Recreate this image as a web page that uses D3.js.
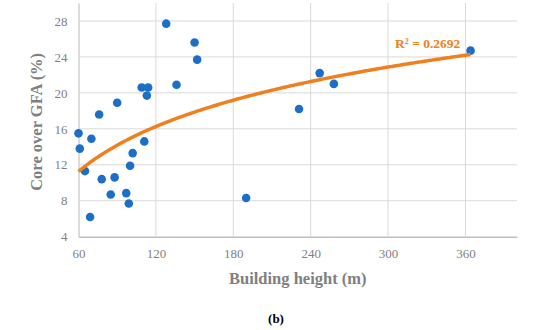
<!DOCTYPE html>
<html>
<head>
<meta charset="utf-8">
<script src="https://cdn.jsdelivr.net/npm/d3@7"></script>
<style>
  body { margin: 0; background: #fff; }
  svg { display: block; font-family: "Liberation Serif", "DejaVu Serif", serif; }
</style>
</head>
<body>
<svg width="550" height="330"></svg>
<script>
// building height (m) and core over GFA (%)
var heights = [60, 61, 70, 76, 90, 109, 114, 113, 128, 136, 150, 152, 111, 102, 65, 78, 88, 85, 97, 99, 100, 69, 190, 247, 258, 231, 364];
var cores   = [15.5, 13.8, 14.9, 17.6, 18.9, 20.6, 20.6, 19.7, 27.7, 20.9, 25.6, 23.7, 14.6, 13.3, 11.3, 10.4, 10.6, 8.7, 8.85, 7.7, 11.9, 6.2, 8.3, 22.2, 21.0, 18.2, 24.7];
var xTicks = [60, 120, 180, 240, 300, 360];
var yTicks = [4, 8, 12, 16, 20, 24, 28];
// log trendline y = a ln(x) + b
var trendA = 7.22, trendB = -18.31;
var trendLabel = "R\u00B2 = 0.2692";

var svg = d3.select("svg");
var mLeft = 78.5, mRight = 517, mTop = 3, mBottom = 236.7;

var xScale = d3.scaleLinear().domain([60, 400]).range([mLeft, mRight]);
var yScale = d3.scaleLinear().domain([4, 30]).range([mBottom, mTop]);

var g = svg.append("g");

// grid
g.selectAll(".hgrid").data(yTicks.slice(1)).enter().append("line")
  .attr("x1", mLeft).attr("x2", mRight)
  .attr("y1", function(d){return yScale(d);}).attr("y2", function(d){return yScale(d);})
  .attr("stroke", "#d9d9d9").attr("stroke-width", 1);
g.selectAll(".vgrid").data(xTicks.slice(1)).enter().append("line")
  .attr("x1", function(d){return xScale(d);}).attr("x2", function(d){return xScale(d);})
  .attr("y1", mTop).attr("y2", mBottom)
  .attr("stroke", "#d9d9d9").attr("stroke-width", 1);

// axes
var xAxis = g.append("g").attr("transform", "translate(0," + mBottom + ")")
  .call(d3.axisBottom(xScale).tickValues(xTicks).tickSize(0).tickPadding(12));
var yAxis = g.append("g").attr("transform", "translate(" + mLeft + ",0)")
  .call(d3.axisLeft(yScale).tickValues(yTicks).tickSize(0).tickPadding(11));
xAxis.select(".domain").attr("stroke", "#bfbfbf").attr("stroke-width", 1.5);
yAxis.select(".domain").attr("stroke", "#d0d0d0").attr("stroke-width", 1.5);
svg.selectAll(".tick text").attr("fill", "#7f7f7f").style("font-size", "13px")
  .style("font-family", "Liberation Serif, serif");

// points
g.selectAll("circle").data(d3.range(heights.length)).enter().append("circle")
  .attr("cx", function(i){return xScale(heights[i]);})
  .attr("cy", function(i){return yScale(cores[i]);})
  .attr("r", 4.3)
  .attr("fill", "#1c6fc6");

// trendline
var tx = d3.range(d3.min(heights), d3.max(heights) + 1, 2);
var line = d3.line()
  .x(function(d){return xScale(d);})
  .y(function(d){return yScale(trendA * Math.log(d) + trendB);})
  .curve(d3.curveMonotoneX);
g.append("path").datum(tx)
  .attr("d", line)
  .attr("fill", "none")
  .attr("stroke", "#f07f1e")
  .attr("stroke-width", 3.5);

g.append("text").attr("x", 395).attr("y", 48)
  .attr("fill", "#f07f1e").style("font-size", "13.5px").style("font-weight", "bold")
  .text(trendLabel);

// titles
svg.append("text").attr("x", (mLeft + mRight) / 2).attr("y", 284)
  .attr("text-anchor", "middle").attr("fill", "#7f7f7f")
  .style("font-size", "16.5px").style("font-weight", "bold")
  .text("Building height (m)");
svg.append("text").attr("transform", "translate(42," + ((mTop + mBottom) / 2 + 2) + ") rotate(-90)")
  .attr("text-anchor", "middle").attr("fill", "#7f7f7f")
  .style("font-size", "16.5px").style("font-weight", "bold")
  .text("Core over GFA (%)");
svg.append("text").attr("x", 276).attr("y", 323)
  .attr("text-anchor", "middle").attr("fill", "#000")
  .style("font-size", "13px").style("font-weight", "bold")
  .text("(b)");
</script>
</body>
</html>
